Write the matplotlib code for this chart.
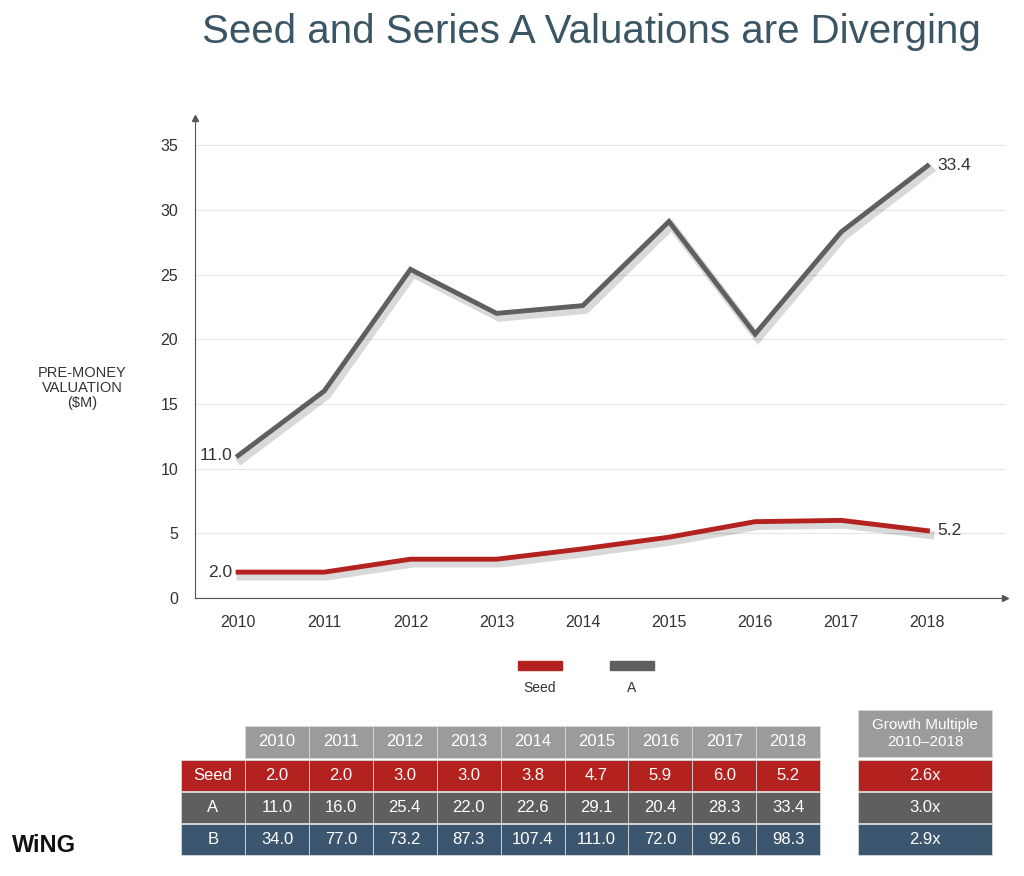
import matplotlib.pyplot as plt
import matplotlib.patheffects as pe
from matplotlib.patches import Rectangle

plt.rcParams['font.family'] = ['Liberation Sans', 'DejaVu Sans']

years = [2010, 2011, 2012, 2013, 2014, 2015, 2016, 2017, 2018]
seed = [2.0, 2.0, 3.0, 3.0, 3.8, 4.7, 5.9, 6.0, 5.2]
series_a = [11.0, 16.0, 25.4, 22.0, 22.6, 29.1, 20.4, 28.3, 33.4]
series_b = [34.0, 77.0, 73.2, 87.3, 107.4, 111.0, 72.0, 92.6, 98.3]
row_names = ['Seed', 'A', 'B']
growth = ['2.6x', '3.0x', '2.9x']

RED = '#b3221f'
GRAY = '#5f5f5f'
BLUE = '#3b566e'
HEAD = '#9b9b9b'
W, H = 1024, 876

fig = plt.figure(figsize=(10.24, 8.76), dpi=100)
fig.text(591 / W, 1 - 32 / H, 'Seed and Series A Valuations are Diverging',
         ha='center', va='center', fontsize=29, color='#3b5564')

ax = fig.add_axes([195 / W, 1 - 598 / H, 810 / W, 480 / H])
ax.set_xlim(2009.5, 2018.9)
ax.set_ylim(0, 37.1)
ax.set_yticks(range(0, 36, 5))
ax.set_xticks(years)
ax.tick_params(length=0, labelsize=11.5, colors='#333333', pad=12)
ax.grid(axis='y', color='#e6e6e6', lw=0.8)
for s in ['top', 'right']:
    ax.spines[s].set_visible(False)
for s in ['left', 'bottom']:
    ax.spines[s].set_color('#555555')
ax.plot(1, 0, '>', color='#555555', ms=5, transform=ax.transAxes, clip_on=False)
ax.plot(0, 1, '^', color='#555555', ms=5, transform=ax.transAxes, clip_on=False)

shadow = [pe.SimpleLineShadow(offset=(2, -3), alpha=0.15, shadow_color='black', linewidth=6), pe.Normal()]
ax.plot(years, series_a, color=GRAY, lw=3.5, path_effects=shadow, solid_joinstyle='miter')
ax.plot(years, seed, color=RED, lw=3.5, path_effects=shadow)
ax.text(years[0] - 0.07, series_a[0], f'{series_a[0]:.1f}', ha='right', va='center', fontsize=12.5, color='#333333')
ax.text(years[0] - 0.07, seed[0], f'{seed[0]:.1f}', ha='right', va='center', fontsize=12.5, color='#333333')
ax.text(years[-1] + 0.12, series_a[-1], f'{series_a[-1]:.1f}', ha='left', va='center', fontsize=12.5, color='#333333')
ax.text(years[-1] + 0.12, seed[-1], f'{seed[-1]:.1f}', ha='left', va='center', fontsize=12.5, color='#333333')

fig.text(82 / W, 1 - 388 / H, 'PRE-MONEY\nVALUATION\n($M)', ha='center', va='center',
         fontsize=10.5, color='#333333', linespacing=1.1)

# legend
for x0, c, lab in [(518, RED, 'Seed'), (610, GRAY, 'A')]:
    fig.patches.append(Rectangle((x0 / W, 1 - 670 / H), 44 / W, 9 / H, color=c, transform=fig.transFigure))
    fig.text((x0 + 22) / W, 1 - 688 / H, lab, ha='center', va='center', fontsize=10, color='#333333')

# table
def cell(x0, y0, w, h, color, txt, fs=12):
    fig.patches.append(Rectangle((x0 / W, 1 - (y0 + h) / H), w / W, h / H, facecolor=color,
                                 edgecolor='#d8d8d8', lw=0.6, transform=fig.transFigure))
    fig.text((x0 + w / 2) / W, 1 - (y0 + h / 2) / H, txt, ha='center', va='center',
             fontsize=fs, color='white')

col0, labw, cw = 181, 64, 63.9
rows_y = [760, 792, 824]
rh = 31
for i, y in enumerate(years):
    cell(col0 + labw + i * cw, 726, cw, 32, HEAD, str(y))
for r, (name, vals, c) in enumerate(zip(row_names, [seed, series_a, series_b], [RED, GRAY, BLUE])):
    cell(col0, rows_y[r], labw, rh, c, name)
    for i, v in enumerate(vals):
        cell(col0 + labw + i * cw, rows_y[r], cw, rh, c, f'{v:.1f}')
    cell(858, rows_y[r], 134, rh, c, growth[r])
cell(858, 710, 134, 47, HEAD, 'Growth Multiple\n2010\u20132018', fs=11)

fig.text(12 / W, 1 - 846 / H, 'WiNG', ha='left', va='center', fontsize=17, fontweight='bold', color='#111111')

fig.savefig('out.png', dpi=100)
